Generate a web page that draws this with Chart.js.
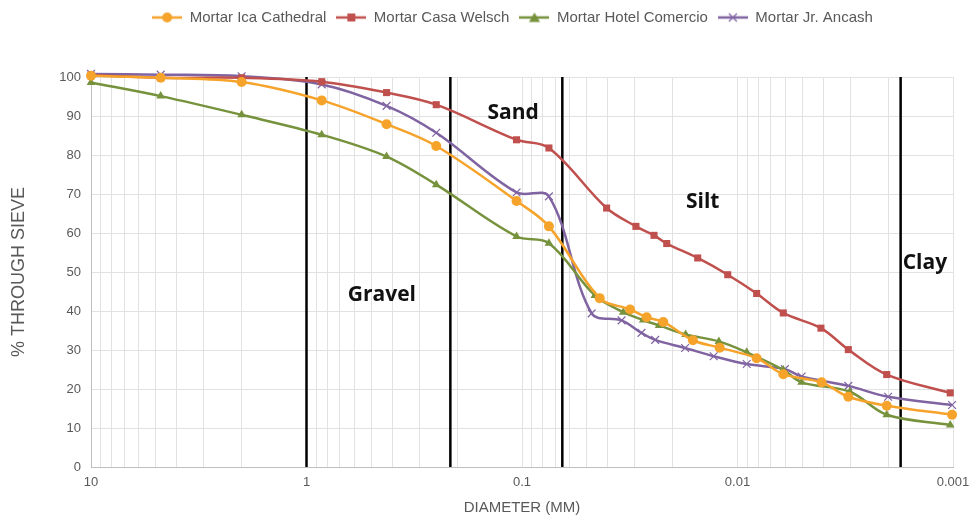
<!DOCTYPE html>
<html>
<head>
    <title>Mortar grain size distribution</title>
    <script src="https://cdn.jsdelivr.net/npm/chart.js"></script>
    <style>
        body { margin: 0; background: #fff; }
        #wrap { width: 975px; height: 521px; }
    </style>
</head>
<body>
<div id="wrap"><canvas id="grading"></canvas></div>
<script>
    // series names + colours
    const seriesNames = ['Mortar Ica Cathedral', 'Mortar Casa Welsch', 'Mortar Hotel Comercio', 'Mortar Jr. Ancash'];
    const seriesColors = ['#F6A32B', '#C0504D', '#76923C', '#8064A2'];
    const seriesMarkers = ['circle', 'rect', 'triangle', 'crossRot'];

    // diameter (mm) / % through sieve
    const icaDiam = [10, 4.75, 2, 0.85, 0.425, 0.25, 0.106, 0.075, 0.0436, 0.0315, 0.0264, 0.0221, 0.0161, 0.0121, 0.00815, 0.00613, 0.00407, 0.00306, 0.00203, 0.00101];
    const icaPass = [100.3, 99.8, 98.7, 94.0, 87.9, 82.3, 68.2, 61.7, 43.3, 40.4, 38.4, 37.2, 32.5, 30.6, 27.9, 23.8, 21.7, 18.0, 15.7, 13.4];

    const welschDiam = [10, 4.75, 2, 0.85, 0.425, 0.25, 0.106, 0.075, 0.0405, 0.0296, 0.0244, 0.0213, 0.0153, 0.0111, 0.00815, 0.00613, 0.0041, 0.00306, 0.00203, 0.00103];
    const welschPass = [100.5, 99.8, 99.8, 98.8, 96.0, 92.9, 83.9, 81.8, 66.4, 61.7, 59.4, 57.3, 53.6, 49.3, 44.5, 39.5, 35.6, 30.1, 23.7, 19.0];

    const comercioDiam = [10, 4.75, 2, 0.85, 0.425, 0.25, 0.106, 0.075, 0.0459, 0.0339, 0.0274, 0.0231, 0.0174, 0.0122, 0.00906, 0.00613, 0.00504, 0.00301, 0.00203, 0.00103];
    const comercioPass = [98.6, 95.1, 90.3, 85.2, 79.6, 72.4, 59.1, 57.4, 44.0, 39.7, 37.7, 36.3, 34.0, 32.2, 29.4, 24.9, 21.7, 19.3, 13.4, 10.8];

    const ancashDiam = [10, 4.75, 2, 0.85, 0.425, 0.25, 0.106, 0.075, 0.0475, 0.0345, 0.0279, 0.0241, 0.0175, 0.0129, 0.00906, 0.00603, 0.00504, 0.00306, 0.002, 0.00101];
    const ancashPass = [100.8, 100.6, 100.2, 98.1, 92.6, 85.7, 70.4, 69.4, 39.4, 37.6, 34.4, 32.6, 30.5, 28.4, 26.4, 25.1, 23.2, 20.8, 18.0, 15.9];

    // soil class boundaries (mm) and their labels
    const boundaryDiam = [1, 0.215, 0.065, 0.00175];
    const zoneNames = ['Gravel', 'Sand', 'Silt', 'Clay'];
    const zoneDiam = [0.447, 0.110, 0.0145, 0.00135];
    const zonePass = [44.2, 90.8, 68.0, 52.4];

    const seriesDiam = [icaDiam, welschDiam, comercioDiam, ancashDiam];
    const seriesPass = [icaPass, welschPass, comercioPass, ancashPass];

    // little line+marker pictures for the legend
    function legendIcon(color, marker) {
        const c = document.createElement('canvas');
        c.width = 30; c.height = 14;
        const g = c.getContext('2d');
        g.strokeStyle = color; g.fillStyle = color; g.lineWidth = 2.5;
        g.beginPath(); g.moveTo(0, 7); g.lineTo(30, 7); g.stroke();
        g.beginPath();
        if (marker === 'circle') { g.arc(15, 7, 5, 0, Math.PI * 2); g.fill(); }
        else if (marker === 'rect') { g.fillRect(11, 3, 8, 8); }
        else if (marker === 'triangle') { g.moveTo(15, 2); g.lineTo(20.5, 11.5); g.lineTo(9.5, 11.5); g.closePath(); g.fill(); }
        else { g.lineWidth = 1.2; g.moveTo(11, 3); g.lineTo(19, 11); g.moveTo(19, 3); g.lineTo(11, 11); g.stroke(); }
        return c;
    }

    const datasets = seriesNames.map((name, i) => ({
        label: name,
        data: seriesDiam[i].map((d, k) => ({ x: d, y: seriesPass[i][k] })),
        borderColor: seriesColors[i],
        backgroundColor: seriesColors[i],
        borderWidth: 2.5,
        pointStyle: seriesMarkers[i],
        pointRadius: seriesMarkers[i] === 'crossRot' ? 5.5 : 5,
        pointBorderWidth: seriesMarkers[i] === 'crossRot' ? 1.2 : 0,
        tension: 0.35,
        clip: false,
        order: i
    }));

    boundaryDiam.forEach(d => {
        datasets.push({
            data: [{ x: d, y: 0 }, { x: d, y: 100 }],
            borderColor: '#000',
            borderWidth: 2.5,
            pointRadius: 0,
            order: 10
        });
    });

    // Gravel / Sand / Silt / Clay captions
    const zoneText = {
        id: 'zoneText',
        afterDatasetsDraw(chart) {
            const ctx = chart.ctx, xs = chart.scales.x, ys = chart.scales.y;
            ctx.save();
            ctx.font = 'bold 21px "Open Sans"';
            ctx.fillStyle = '#111';
            ctx.textAlign = 'center';
            ctx.textBaseline = 'middle';
            zoneNames.forEach((t, i) => {
                ctx.fillText(t, xs.getPixelForValue(zoneDiam[i]), ys.getPixelForValue(zonePass[i]));
            });
            ctx.restore();
        }
    };

    // room between legend and plot, legend pushed a bit right
    const legendRoom = {
        id: 'legendRoom',
        beforeInit(chart) {
            const fit = chart.legend.fit;
            chart.legend.fit = function () { fit.call(this); this.height = 77; };
        },
        afterLayout(chart) {
            chart.legend.left += 36;
            chart.legend.right += 36;
        }
    };

    const ctx = document.getElementById('grading').getContext('2d');
    const chart = new Chart(ctx, {
        type: 'line',
        data: { datasets: datasets },
        plugins: [legendRoom, zoneText],
        options: {
            responsive: true,
            maintainAspectRatio: false,
            animation: false,
            layout: { padding: { left: 0, right: 22, top: 0, bottom: 0 } },
            plugins: {
                tooltip: { enabled: false },
                legend: {
                    position: 'top',
                    labels: {
                        usePointStyle: true,
                        pointStyleWidth: 30,
                        padding: 10,
                        color: '#595959',
                        font: { family: '"Liberation Sans", Arial', size: 15 },
                        generateLabels: () => seriesNames.map((name, i) => ({
                            text: name,
                            pointStyle: legendIcon(seriesColors[i], seriesMarkers[i]),
                            fontColor: '#595959',
                            lineWidth: 0,
                            hidden: false,
                            datasetIndex: i
                        }))
                    }
                }
            },
            scales: {
                x: {
                    type: 'logarithmic',
                    reverse: true,
                    min: 0.001,
                    max: 10,
                    afterFit: s => { s.height = 54; },
                    afterBuildTicks: s => {
                        const t = [];
                        for (let e = -3; e <= 0; e++) {
                            for (let m = 1; m <= 9; m++) t.push({ value: +(m * Math.pow(10, e)).toPrecision(3) });
                        }
                        t.push({ value: 10 });
                        s.ticks = t;
                    },
                    ticks: {
                        autoSkip: false,
                        maxRotation: 0,
                        padding: 8,
                        color: '#595959',
                        font: { family: '"Liberation Sans", Arial', size: 13 },
                        callback: v => {
                            const l = Math.log10(v);
                            return Math.abs(l - Math.round(l)) < 1e-6 ? String(v) : '';
                        }
                    },
                    grid: { color: '#e2e2e2', drawTicks: false },
                    border: { color: '#bfbfbf' },
                    title: {
                        display: true,
                        text: 'DIAMETER (MM)',
                        color: '#595959',
                        font: { family: '"Liberation Sans", Arial', size: 15 },
                        padding: { top: 4, bottom: 4 }
                    }
                },
                y: {
                    min: 0,
                    max: 100,
                    afterFit: s => { s.width = 91; },
                    ticks: {
                        stepSize: 10,
                        padding: 10,
                        color: '#595959',
                        font: { family: '"Liberation Sans", Arial', size: 13 }
                    },
                    grid: { color: '#e2e2e2', drawTicks: false },
                    border: { color: '#bfbfbf' },
                    title: {
                        display: true,
                        text: '% THROUGH SIEVE',
                        color: '#595959',
                        font: { family: '"Liberation Sans", Arial', size: 18 },
                        padding: { top: 8, bottom: 0 }
                    }
                }
            }
        }
    });
</script>
</body>
</html>
